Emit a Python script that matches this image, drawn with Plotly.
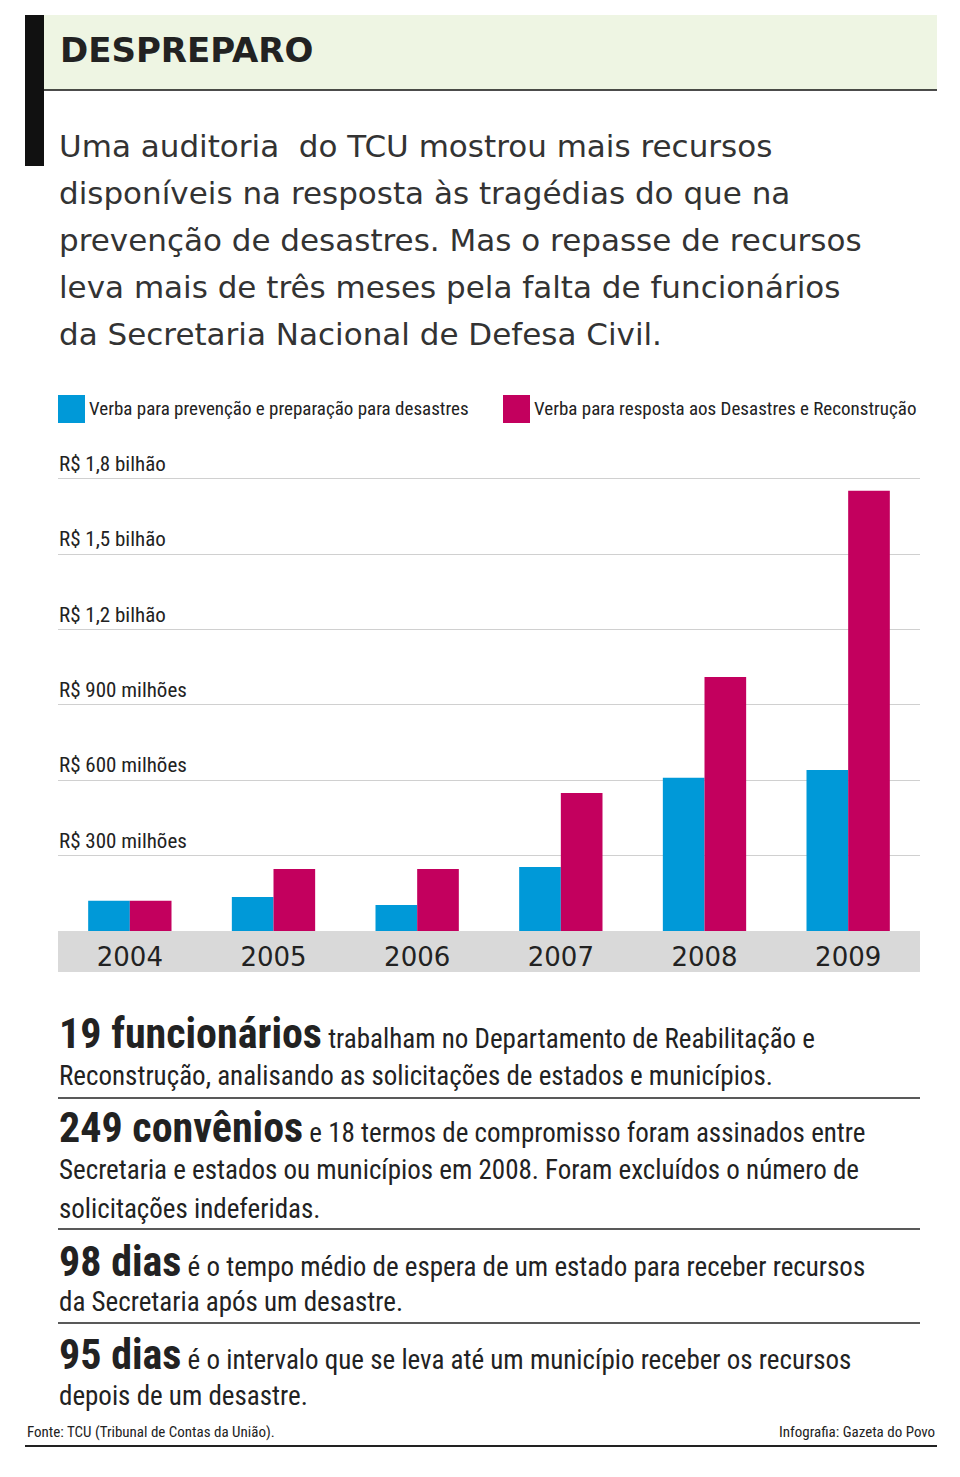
import plotly.graph_objects as go

years = ["2004", "2005", "2006", "2007", "2008", "2009"]
prevencao = [120, 135, 104, 255, 610, 641]      # R$ milhões
resposta = [120, 247, 247, 550, 1012, 1753]     # R$ milhões
tick_vals = [300, 600, 900, 1200, 1500, 1800]
tick_text = ["R$ 300 milhões", "R$ 600 milhões", "R$ 900 milhões",
             "R$ 1,2 bilhão", "R$ 1,5 bilhão", "R$ 1,8 bilhão"]
legend_names = ["Verba para prevenção e preparação para desastres",
                "Verba para resposta aos Desastres e Reconstrução"]

BLUE = "#0099d8"
MAG = "#c3005e"
W, H = 960, 1477
OFF = 8
def py(p): return 1 - (p - OFF) / H
def px(p): return (p - OFF) / W
NARROW = "Liberation Sans Narrow, Roboto Condensed, Arial Narrow, sans-serif"
BODY = "DejaVu Sans, Verdana, sans-serif"

fig = go.Figure()
fig.add_bar(x=years, y=prevencao, marker_color=BLUE, name=legend_names[0], marker_line_width=0)
fig.add_bar(x=years, y=resposta, marker_color=MAG, name=legend_names[1], marker_line_width=0)

shapes = []
ann = []
shapes.append(dict(type="rect", xref="paper", yref="paper", x0=px(25), x1=px(937), y0=py(90), y1=py(15),
                   fillcolor="#eef5e3", line_width=0, layer="below"))
shapes.append(dict(type="rect", xref="paper", yref="paper", x0=px(25), x1=px(44), y0=py(166), y1=py(15),
                   fillcolor="#111", line_width=0))
shapes.append(dict(type="line", xref="paper", yref="paper", x0=px(44), x1=px(937), y0=py(90), y1=py(90),
                   line=dict(color="#111", width=1.5)))
ann.append(dict(text="<b>DESPREPARO</b>", x=px(58), y=py(50), font=dict(size=34, family=BODY, color="#222")))
para = ["Uma auditoria  do TCU mostrou mais recursos",
        "disponíveis na resposta às tragédias do que na",
        "prevenção de desastres. Mas o repasse de recursos",
        "leva mais de três meses pela falta de funcionários",
        "da Secretaria Nacional de Defesa Civil."]
for i, t in enumerate(para):
    ann.append(dict(text=t, x=px(57), y=py(146 + 47 * i), font=dict(size=31, family=BODY, color="#333")))

for i, (x0, col) in enumerate([(58, BLUE), (503, MAG)]):
    shapes.append(dict(type="rect", xref="paper", yref="paper", x0=px(x0), x1=px(x0 + 27), y0=py(423), y1=py(395),
                       fillcolor=col, line_width=0))
    ann.append(dict(text=legend_names[i], x=px(x0 + 29), y=py(408),
                    font=dict(size=19, family=NARROW, color="#222")))

shapes.append(dict(type="rect", xref="paper", yref="paper", x0=px(58), x1=px(920), y0=py(972), y1=py(931),
                   fillcolor="#d9d9d9", line_width=0, layer="below"))
for v, t in zip(tick_vals, tick_text):
    ann.append(dict(text=t, xref="paper", yref="y", x=px(57), y=v, yshift=15,
                    font=dict(size=21, family=NARROW, color="#222")))

blocks = [
    (1033, "<b><span style='font-size:42px'>19 funcionários</span></b> trabalham no Departamento de Reabilitação e"),
    (1076, "Reconstrução, analisando as solicitações de estados e municípios."),
    (1127, "<b><span style='font-size:42px'>249 convênios</span></b> e 18 termos de compromisso foram assinados entre"),
    (1170, "Secretaria e estados ou municípios em 2008. Foram excluídos o número de"),
    (1209, "solicitações indeferidas."),
    (1261, "<b><span style='font-size:42px'>98 dias</span></b> é o tempo médio de espera de um estado para receber recursos"),
    (1302, "da Secretaria após um desastre."),
    (1354, "<b><span style='font-size:42px'>95 dias</span></b> é o intervalo que se leva até um município receber os recursos"),
    (1396, "depois de um desastre."),
]
for yy, t in blocks:
    ann.append(dict(text=t, x=px(57), y=py(yy), font=dict(size=27, family=NARROW, color="#222")))
for yy in [1098, 1229, 1323]:
    shapes.append(dict(type="line", xref="paper", yref="paper", x0=px(58), x1=px(920), y0=py(yy), y1=py(yy),
                       line=dict(color="#222", width=1.5)))
shapes.append(dict(type="line", xref="paper", yref="paper", x0=px(25), x1=px(937), y0=py(1446), y1=py(1446),
                   line=dict(color="#222", width=2)))
ann.append(dict(text="Fonte: TCU (Tribunal de Contas da União).", x=px(25), y=py(1432),
                font=dict(size=15, family=NARROW, color="#222")))
ann.append(dict(text="Infografia: Gazeta do Povo", x=px(937), y=py(1432), xanchor="right",
                font=dict(size=15, family=NARROW, color="#222")))

for a in ann:
    a.setdefault("xref", "paper"); a.setdefault("yref", "paper")
    a.setdefault("xanchor", "left"); a["yanchor"] = "middle"; a["showarrow"] = False

YMAX = 1810
top_px = 931 - YMAX * (452 / 1800)
fig.update_layout(
    width=W, height=H, margin=dict(l=0, r=0, t=0, b=0),
    paper_bgcolor="white", plot_bgcolor="rgba(0,0,0,0)",
    barmode="group", bargap=0.42, bargroupgap=0, showlegend=False,
    xaxis=dict(domain=[px(58), px(920)], showgrid=False, ticks="", showline=False,
               tickfont=dict(size=26, family=BODY, color="#222"), ticklabelstandoff=8),
    yaxis=dict(domain=[py(931), py(top_px)], range=[0, YMAX], tickvals=tick_vals, showticklabels=False,
               gridcolor="#d0d0d0", gridwidth=1, zeroline=False, showline=False),
    shapes=shapes, annotations=ann,
)
fig.write_html("out.html")
